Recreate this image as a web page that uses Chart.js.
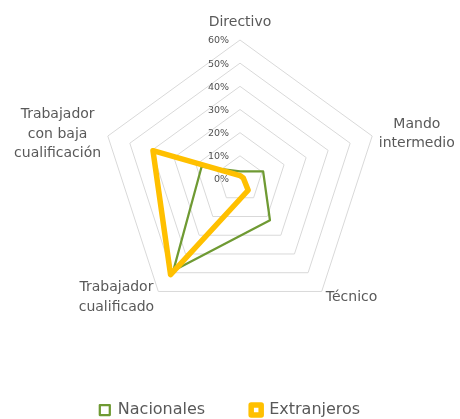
<!DOCTYPE html>
<html>
<head>
<meta charset="utf-8">
<script src="https://cdn.jsdelivr.net/npm/chart.js@4/dist/chart.umd.min.js"></script>
<style>
  html, body { margin: 0; padding: 0; background: #ffffff; overflow: hidden; }
  canvas { display: block; }
</style>
</head>
<body>
<canvas id="c" width="460" height="419"></canvas>
<script>
// ---- data ----
const categories = [
  ['Directivo'],
  ['Mando', 'intermedio'],
  ['Técnico'],
  ['Trabajador', 'cualificado'],
  ['Trabajador', 'con baja', 'cualificación']
];
const nacionales  = [3.3, 10.5, 22, 49, 17.4];
const extranjeros = [1.5, 1.5, 6, 51, 39.5];
const tickLabels  = ['0%', '10%', '20%', '30%', '40%', '50%', '60%'];

const seriesNames = ['Nacionales', 'Extranjeros'];
const GREEN = '#6F9A33';
const YELLOW = '#FFC000';
const TEXT = '#595959';
const FONT = "'DejaVu Sans', sans-serif";

// fixed radar geometry (center / radius) to match the reference layout
const radarGeometry = {
  id: 'radarGeometry',
  afterLayout(chart) {
    const r = chart.scales.r;
    r.xCenter = 240;
    r.yCenter = 179;
    r.drawingArea = 139;
  }
};

// tick labels to the left of the vertical axis (including 0%)
const tickText = {
  id: 'tickText',
  afterDatasetsDraw(chart) {
    const r = chart.scales.r;
    const ctx = chart.ctx;
    ctx.save();
    ctx.font = "9.5px " + FONT;
    ctx.fillStyle = '#505050';
    ctx.textAlign = 'right';
    ctx.textBaseline = 'middle';
    r.ticks.forEach((t, i) => {
      const d = r.getDistanceFromCenterForValue(t.value);
      ctx.fillText(tickLabels[i], r.xCenter - 11, r.yCenter - d + 1);
    });
    ctx.restore();
  }
};

// category labels placed like the reference (centered lines, block centered on the vertex)
const catLabels = {
  id: 'catLabels',
  afterDraw(chart) {
    const r = chart.scales.r;
    const ctx = chart.ctx;
    const lh = 19.5;
    ctx.save();
    ctx.font = "14px " + FONT;
    ctx.fillStyle = TEXT;
    ctx.textBaseline = 'middle';
    ctx.textAlign = 'center';
    categories.forEach((lines, i) => {
      const p = r.getPointPosition(i, r.drawingArea + 7);
      const w = Math.max(...lines.map(l => ctx.measureText(l).width));
      const h = lines.length * lh;
      let cx, top;
      const dx = p.x - r.xCenter;
      if (Math.abs(dx) < 1) {
        cx = p.x;
        top = p.y - 1 - h;
      } else if (dx > 0) {
        cx = p.x + w / 2;
        top = p.y - h / 2;
      } else {
        cx = p.x - w / 2;
        top = p.y - h / 2;
      }
      lines.forEach((l, k) => ctx.fillText(l, cx, top + lh * k + lh / 2));
    });
    ctx.restore();
  }
};

new Chart(document.getElementById('c'), {
  type: 'radar',
  data: {
    labels: categories,
    datasets: [
      {
        label: seriesNames[1],
        data: extranjeros,
        borderColor: YELLOW,
        backgroundColor: 'rgba(255,255,255,0)',
        borderWidth: 5.5,
        borderJoinStyle: 'round',
        fill: false,
        pointRadius: 0,
        pointHoverRadius: 0
      },
      {
        label: seriesNames[0],
        data: nacionales,
        borderColor: GREEN,
        backgroundColor: 'rgba(255,255,255,0)',
        borderWidth: 2.25,
        borderJoinStyle: 'round',
        fill: false,
        pointRadius: 0,
        pointHoverRadius: 0
      }
    ]
  },
  options: {
    responsive: false,
    animation: false,
    layout: { padding: { bottom: -9 } },
    elements: { line: { tension: 0 } },
    scales: {
      r: {
        min: 0,
        max: 60,
        startAngle: 0,
        ticks: {
          stepSize: 10,
          display: false,
          callback: (v, i) => tickLabels[i]
        },
        grid: { color: '#D9D9D9', lineWidth: 1 },
        angleLines: { display: false },
        pointLabels: { display: false }
      }
    },
    plugins: {
      tooltip: { enabled: false },
      legend: {
        position: 'bottom',
        reverse: true,
        labels: {
          boxWidth: 10,
          boxHeight: 10,
          padding: 46,
          color: TEXT,
          font: { family: FONT, size: 16 }
        }
      }
    }
  },
  plugins: [radarGeometry, tickText, catLabels]
});
</script>
</body>
</html>
